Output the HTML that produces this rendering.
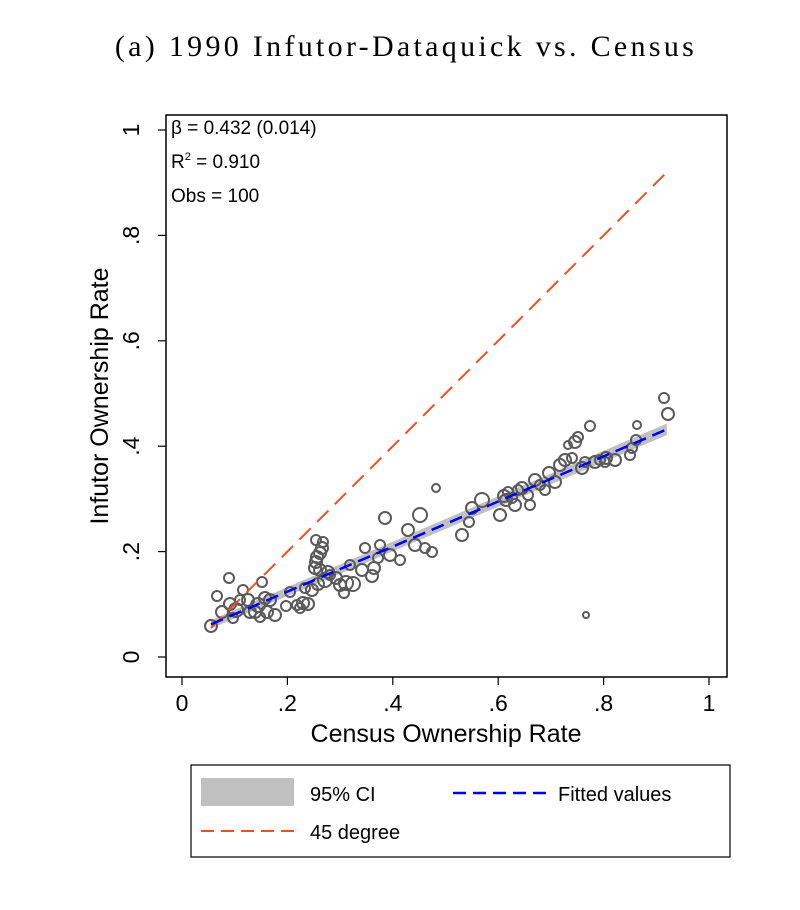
<!DOCTYPE html>
<html><head><meta charset="utf-8"><style>
body{margin:0;background:#fff;}
svg{display:block;font-family:"Liberation Sans",sans-serif;}
</style></head><body>
<svg id="chart" width="800" height="910" viewBox="0 0 800 910">
<text x="406" y="56" text-anchor="middle" font-family="Liberation Serif,serif" font-size="30" letter-spacing="3.3">(a) 1990 Infutor-Dataquick vs. Census</text>
<rect x="166" y="115" width="561" height="562" fill="none" stroke="#000" stroke-width="1.5"/>
<g id="band"></g><g id="pts"></g><g id="lines"></g><g id="axes"></g>
<text x="171" y="134" font-size="19">β = 0.432 (0.014)</text>
<text x="171" y="168" font-size="19">R<tspan dy="-8" font-size="11">2</tspan><tspan dy="8"> = 0.910</tspan></text>
<text x="171" y="202" font-size="19">Obs = 100</text>
<text x="446" y="742" text-anchor="middle" font-size="25">Census Ownership Rate</text>
<text transform="translate(108,396) rotate(-90)" text-anchor="middle" font-size="25">Infutor Ownership Rate</text>
<g>
<rect x="191" y="765" width="539" height="92" fill="none" stroke="#000" stroke-width="1.2"/>
<rect x="201" y="778" width="93" height="28" fill="#c0c0c0"/>
<text x="310" y="801" font-size="20">95% CI</text>
<line x1="453" y1="793" x2="546" y2="793" stroke="#0000ee" stroke-width="2.5" stroke-dasharray="13,7"/>
<text x="558" y="801" font-size="20">Fitted values</text>
<line x1="201" y1="831" x2="294" y2="831" stroke="#f05020" stroke-width="2" stroke-dasharray="13,7"/>
<text x="310" y="839" font-size="20">45 degree</text>
</g>
</svg>
<script>
const xs=[211,217,229,243,248,262,258,265,270,267,275,260,250,236,233,240,222,230,255,286,297,303,300,308,290,305,312,318,325,330,320,315,316,317,320,322,323,316,328,336,340,346,344,350,353,362,365,372,374,378,380,385,390,400,408,415,420,425,432,436,462,469,472,482,500,504,508,506,512,515,518,522,528,530,535,540,545,549,555,560,565,568,572,575,578,582,585,586,590,595,600,605,615,630,632,636,637,664,668,606].map(p=>(p-182)/527);
const ys=[626,596,578,590,600,582,605,598,600,612,615,617,612,610,618,600,612,604,612,606,605,603,608,604,592,588,590,584,580,575,570,568,562,557,553,548,542,540,572,578,585,583,593,565,584,570,548,576,568,558,545,518,555,560,530,545,515,548,552,488,535,522,508,500,515,496,492,500,498,505,490,488,495,505,480,485,490,473,482,465,460,445,458,442,437,468,462,615,426,462,460,462,460,455,448,440,425,398,414,458].map(p=>(657-p)/527);
const rs=[6,5,5,5,6,5,7,6,6,6,6,5,6,7,5,5,6,6,6,5,5,6,5,6,5,5,6,6,7,5,6,6,6,6,6,6,5,5,6,6,6,7,5,5,7,6,5,6,6,5,5,6,6,5,6,6,7,5,5,4,6,5,6,7,6,6,5,6,5,6,5,6,5,5,6,5,5,6,6,6,6,4,5,6,5,6,5,3,5,6,5,5,6,5,5,5,4,5,6,6];
const fitX=[0.055,0.92], fitY=[0.062,0.432], ciHalf=[0.008,0.011], diag=[0.055,0.92];
const sx=v=>182+527*v, sy=v=>657-527*v, NS="http://www.w3.org/2000/svg";
function mk(t,a,p){const e=document.createElementNS(NS,t);for(const k in a)e.setAttribute(k,a[k]);document.getElementById(p).appendChild(e);return e;}
let e=mk('polygon',{points:`${sx(fitX[0])},${sy(fitY[0]+ciHalf[0])} ${sx(fitX[1])},${sy(fitY[1]+ciHalf[1])} ${sx(fitX[1])},${sy(fitY[1]-ciHalf[1])} ${sx(fitX[0])},${sy(fitY[0]-ciHalf[0])}`,fill:'#c0c0c0'},'band');


xs.forEach((x,i)=>{const c=mk('circle',{cx:sx(x),cy:sy(ys[i]),r:rs[i],fill:'none',stroke:'#5a5a5a','stroke-width':2},'pts');

});
e=mk('line',{x1:sx(diag[0]),y1:sy(diag[0]),x2:sx(diag[1]),y2:sy(diag[1]),stroke:'#f05020','stroke-width':2,'stroke-dasharray':'16,9'},'lines');


e=mk('line',{x1:sx(fitX[0]),y1:sy(fitY[0]),x2:sx(fitX[1]),y2:sy(fitY[1]),stroke:'#0000ee','stroke-width':2.5,'stroke-dasharray':'13,7'},'lines');


const ticks=[0,0.2,0.4,0.6,0.8,1], tl=['0','.2','.4','.6','.8','1'];
ticks.forEach((t,i)=>{
 let l=mk('line',{x1:sx(t),y1:677,x2:sx(t),y2:685,stroke:'#000','stroke-width':1.2},'axes');
 
 
 let tx=mk('text',{x:sx(t),y:711,'text-anchor':'middle','font-size':23},'axes');tx.textContent=tl[i];
 
 
 l=mk('line',{x1:158,y1:sy(t),x2:166,y2:sy(t),stroke:'#000','stroke-width':1.2},'axes');
 
 
 tx=mk('text',{transform:`translate(139,${sy(t)}) rotate(-90)`,'text-anchor':'middle','font-size':23},'axes');tx.textContent=tl[i];
 
 
});
</script>
</body></html>
